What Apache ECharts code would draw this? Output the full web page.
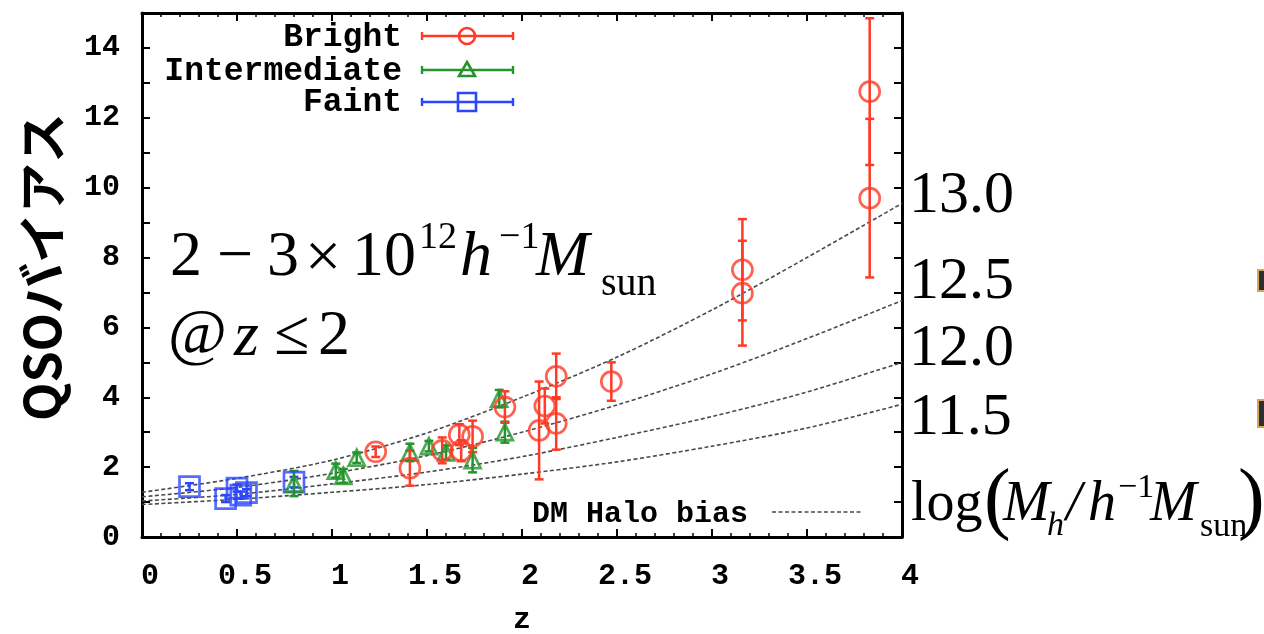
<!DOCTYPE html>
<html>
<head>
<meta charset="utf-8">
<script src="https://cdn.jsdelivr.net/npm/echarts@6/dist/echarts.min.js"></script>
<style>
  html, body { margin: 0; padding: 0; background: #fff; }
  #chart { width: 1264px; height: 634px; }
</style>
</head>
<body>
<div id="chart"></div>
<script>
// QSO bias measurements: redshift, bias and 1-sigma error for each luminosity bin
const brightZ    = [1.23, 1.41, 1.58, 1.67, 1.74, 1.68, 1.91, 2.09, 2.12, 2.18, 2.18, 2.47, 3.16, 3.16, 3.83, 3.83];
const brightBias = [2.44, 1.97, 2.48, 2.93, 2.88, 2.47, 3.72, 3.05, 3.75, 4.60, 3.25, 4.45, 7.65, 6.98, 12.75, 9.70];
const brightErr  = [0.15, 0.50, 0.37, 0.30, 0.45, 0.30, 0.45, 1.40, 0.50, 0.65, 0.75, 0.55, 1.45, 1.50, 2.10, 2.27];

const interZ    = [0.80, 1.02, 1.06, 1.13, 1.41, 1.51, 1.60, 1.74, 1.88, 1.91];
const interBias = [1.53, 1.90, 1.75, 2.27, 2.42, 2.60, 2.42, 2.20, 3.96, 3.00];
const interErr  = [0.36, 0.20, 0.20, 0.15, 0.25, 0.15, 0.20, 0.35, 0.25, 0.30];

const faintZ    = [0.25, 0.44, 0.50, 0.52, 0.55, 0.80];
const faintBias = [1.44, 1.10, 1.40, 1.20, 1.27, 1.57];
const faintErr  = [0.10, 0.10, 0.10, 0.10, 0.10, 0.15];

// Dark-matter halo bias for log(M_h / h^-1 M_sun) = 13.0, 12.5, 12.0, 11.5
const haloZ    = [0, 0.5, 1, 1.5, 2, 2.5, 3, 3.5, 4];
const halo13_0 = [1.28, 1.68, 2.20, 2.98, 4.00, 5.15, 6.50, 8.00, 9.55];
const halo12_5 = [1.15, 1.42, 1.82, 2.33, 3.00, 3.78, 4.67, 5.68, 6.77];
const halo12_0 = [1.03, 1.22, 1.52, 1.86, 2.30, 2.85, 3.45, 4.15, 5.00];
const halo11_5 = [0.93, 1.08, 1.28, 1.50, 1.80, 2.15, 2.60, 3.12, 3.80];

const xTicks = [0, 0.5, 1, 1.5, 2, 2.5, 3, 3.5, 4];
const yTicks = [0, 2, 4, 6, 8, 10, 12, 14];

const RED = '#ff3a26', GREEN = '#23952a', BLUE = '#2a46ff';
const MONO = '"Liberation Mono", "Courier New", monospace';
const SERIF = '"Liberation Serif", "Times New Roman", serif';
const JP = '"Noto Sans CJK JP", sans-serif';

function triples(zs, bs, es) { return zs.map((z, i) => [z, bs[i], es[i]]); }
function pairs(zs, bs) { return zs.map((z, i) => [z, bs[i]]); }

function errorBarRenderer(color, width, cap) {
  return function (params, api) {
    const z = api.value(0), b = api.value(1), e = api.value(2);
    const top = api.coord([z, b + e]);
    const bot = api.coord([z, b - e]);
    const st = { stroke: color, lineWidth: width };
    return {
      type: 'group',
      children: [
        { type: 'line', shape: { x1: top[0], y1: top[1], x2: bot[0], y2: bot[1] }, style: st },
        { type: 'line', shape: { x1: top[0] - cap, y1: top[1], x2: top[0] + cap, y2: top[1] }, style: st },
        { type: 'line', shape: { x1: bot[0] - cap, y1: bot[1], x2: bot[0] + cap, y2: bot[1] }, style: st }
      ]
    };
  };
}

function haloSeries(values) {
  return {
    type: 'line', data: pairs(haloZ, values), smooth: 0.3, symbol: 'none', silent: true,
    lineStyle: { color: '#4a4a4a', width: 1.6, type: [4, 2.5] }, z: 1
  };
}

function errSeries(zs, bs, es, color) {
  return {
    type: 'custom', data: triples(zs, bs, es), encode: { x: 0, y: 1 },
    renderItem: errorBarRenderer(color, 2.5, 4.5), silent: true, z: 3
  };
}

function markSeries(zs, bs, symbol, size, color) {
  return {
    type: 'scatter', data: pairs(zs, bs), symbol: symbol, symbolSize: size, silent: true,
    itemStyle: { color: 'rgba(0,0,0,0)', borderColor: color, borderWidth: 2.7 }, z: 4
  };
}

const frameLine = { lineStyle: { color: '#000', width: 3 } };
const tickStyle = { lineStyle: { color: '#000', width: 2 } };

function xAxisDef(pos, labels) {
  return {
    type: 'value', position: pos, min: xTicks[0], max: xTicks[xTicks.length - 1], interval: 0.5,
    axisLine: { show: true, onZero: false, ...frameLine },
    axisTick: { show: true, inside: true, length: 8, ...tickStyle },
    minorTick: { show: true, splitNumber: 5, length: 4, lineStyle: { color: '#000', width: 1.5 } },
    splitLine: { show: false },
    axisLabel: {
      show: labels, color: '#000', fontFamily: MONO, fontWeight: 'bold', fontSize: 30, margin: 24,
      padding: [0, 0, 0, 16],
      formatter: v => (xTicks.indexOf(v) >= 0 ? String(v) : '')
    },
    name: labels ? 'z' : '', nameLocation: 'middle', nameGap: 68,
    nameTextStyle: { color: '#000', fontFamily: MONO, fontWeight: 'bold', fontSize: 30, padding: [0, 0, 0, 0] }
  };
}

function yAxisDef(pos, labels) {
  return {
    type: 'value', position: pos, min: 0, max: 15, interval: 1,
    axisLine: { show: true, onZero: false, ...frameLine },
    axisTick: { show: true, inside: true, length: 8, ...tickStyle },
    splitLine: { show: false },
    axisLabel: {
      show: labels, color: '#000', fontFamily: MONO, fontWeight: 'bold', fontSize: 30, margin: 22,
      formatter: v => (yTicks.indexOf(v) >= 0 ? String(v) : '')
    }
  };
}

function txt(text, x, y, font, align) {
  return {
    type: 'text', silent: true,
    style: { text: text, x: x, y: y, font: font, fill: '#000', textAlign: align || 'left',
             verticalAlign: 'middle', textVerticalAlign: 'middle' }
  };
}

// legend sample: error-bar line with caps and a hollow marker in the middle
function legendSample(y, color, marker) {
  const st = { stroke: color, lineWidth: 2.4, fill: null };
  const els = [
    { type: 'line', shape: { x1: 422, y1: y, x2: 513, y2: y }, style: st },
    { type: 'line', shape: { x1: 422, y1: y - 4, x2: 422, y2: y + 4 }, style: st },
    { type: 'line', shape: { x1: 513, y1: y - 4, x2: 513, y2: y + 4 }, style: st }
  ];
  const ms = { stroke: color, lineWidth: 2.6, fill: 'rgba(0,0,0,0)' };
  if (marker === 'circle') els.push({ type: 'circle', shape: { cx: 467, cy: y, r: 8 }, style: ms });
  if (marker === 'triangle') els.push({ type: 'polygon', shape: { points: [[467, y - 8], [475, y + 6], [459, y + 6]] }, style: ms });
  if (marker === 'rect') els.push({ type: 'rect', shape: { x: 458, y: y - 9, width: 18, height: 18 }, style: ms });
  return els;
}

const chart = echarts.init(document.getElementById('chart'), null, { renderer: 'canvas' });

const graphics = [].concat(
  // legend
  [
    txt('Bright', 402, 38, 'bold 33px ' + MONO, 'right'),
    txt('Intermediate', 402, 72, 'bold 33px ' + MONO, 'right'),
    txt('Faint', 402, 103, 'bold 33px ' + MONO, 'right')
  ],
  legendSample(36, RED, 'circle'),
  legendSample(70, GREEN, 'triangle'),
  legendSample(102, BLUE, 'rect'),
  // halo-bias key
  [
    txt('DM Halo bias', 748, 514, 'bold 30px ' + MONO, 'right'),
    { type: 'line', silent: true, shape: { x1: 772, y1: 512, x2: 862, y2: 512 },
      style: { stroke: '#4a4a4a', lineWidth: 1.6, lineDash: [4, 2.5] } }
  ],
  // y axis title
  [
    { type: 'text', silent: true, x: 42, y: 267, rotation: Math.PI / 2,
      style: { text: 'QSOバイアス', x: 0, y: 0, font: 'bold 50px ' + JP, fill: '#000',
               textAlign: 'center', verticalAlign: 'middle', textVerticalAlign: 'middle' } }
  ],
  // mass annotation
  [
    txt('2', 170, 258, '64px ' + SERIF),
    txt('\u2212', 217, 258, '64px ' + SERIF),
    txt('3', 267, 258, '64px ' + SERIF),
    txt('\u00d7', 305, 260, '64px ' + SERIF),
    txt('10', 352, 258, '64px ' + SERIF),
    txt('12', 419, 238, '38px ' + SERIF),
    txt('h', 460, 258, 'italic 64px ' + SERIF),
    txt('\u22121', 499, 238, '38px ' + SERIF),
    txt('M', 536, 258, 'italic 64px ' + SERIF),
    txt('sun', 601, 284, '40px ' + SERIF),
    txt('@', 168, 336, '64px ' + SERIF),
    txt('z', 234, 338, 'italic 64px ' + SERIF),
    txt('\u2264', 274, 337, '64px ' + SERIF),
    txt('2', 318, 337, '64px ' + SERIF)
  ],
  // halo mass labels on the right
  [
    txt('13.0', 909, 196, '60px ' + SERIF),
    txt('12.5', 909, 282, '60px ' + SERIF),
    txt('12.0', 909, 349, '60px ' + SERIF),
    txt('11.5', 909, 418, '60px ' + SERIF),
    txt('log', 911, 505, '56px ' + SERIF),
    txt('(', 984, 503, '80px ' + SERIF),
    txt('M', 1003, 505, 'italic 56px ' + SERIF),
    txt('h', 1047, 526, 'italic 34px ' + SERIF),
    txt('/', 1066, 505, 'italic 56px ' + SERIF),
    txt('h', 1088, 505, 'italic 56px ' + SERIF),
    txt('\u22121', 1118, 488, '34px ' + SERIF),
    txt('M', 1150, 505, 'italic 56px ' + SERIF),
    txt('sun', 1200, 527, '34px ' + SERIF),
    txt(')', 1238, 503, '80px ' + SERIF)
  ],
  // partly visible boxes at the right edge
  [
    { type: 'rect', silent: true, shape: { x: 1258, y: 270, width: 12, height: 21 },
      style: { fill: '#2e2e2e', stroke: '#d8a45a', lineWidth: 2 } },
    { type: 'rect', silent: true, shape: { x: 1258, y: 400, width: 12, height: 27 },
      style: { fill: '#2e2e2e', stroke: '#d8a45a', lineWidth: 2 } }
  ]
);

chart.setOption({
  animation: false,
  backgroundColor: '#fff',
  grid: { left: 142, right: 362, top: 13, bottom: 97, containLabel: false, outerBoundsMode: 'none' },
  xAxis: [xAxisDef('bottom', true), xAxisDef('top', false)],
  yAxis: [yAxisDef('left', true), yAxisDef('right', false)],
  series: [
    haloSeries(halo13_0),
    haloSeries(halo12_5),
    haloSeries(halo12_0),
    haloSeries(halo11_5),
    errSeries(faintZ, faintBias, faintErr, BLUE),
    errSeries(interZ, interBias, interErr, GREEN),
    errSeries(brightZ, brightBias, brightErr, RED),
    markSeries(faintZ, faintBias, 'rect', 20, BLUE),
    markSeries(interZ, interBias, 'triangle', 16, GREEN),
    markSeries(brightZ, brightBias, 'circle', 20, RED)
  ],
  graphic: { elements: graphics }
});
</script>
</body>
</html>
